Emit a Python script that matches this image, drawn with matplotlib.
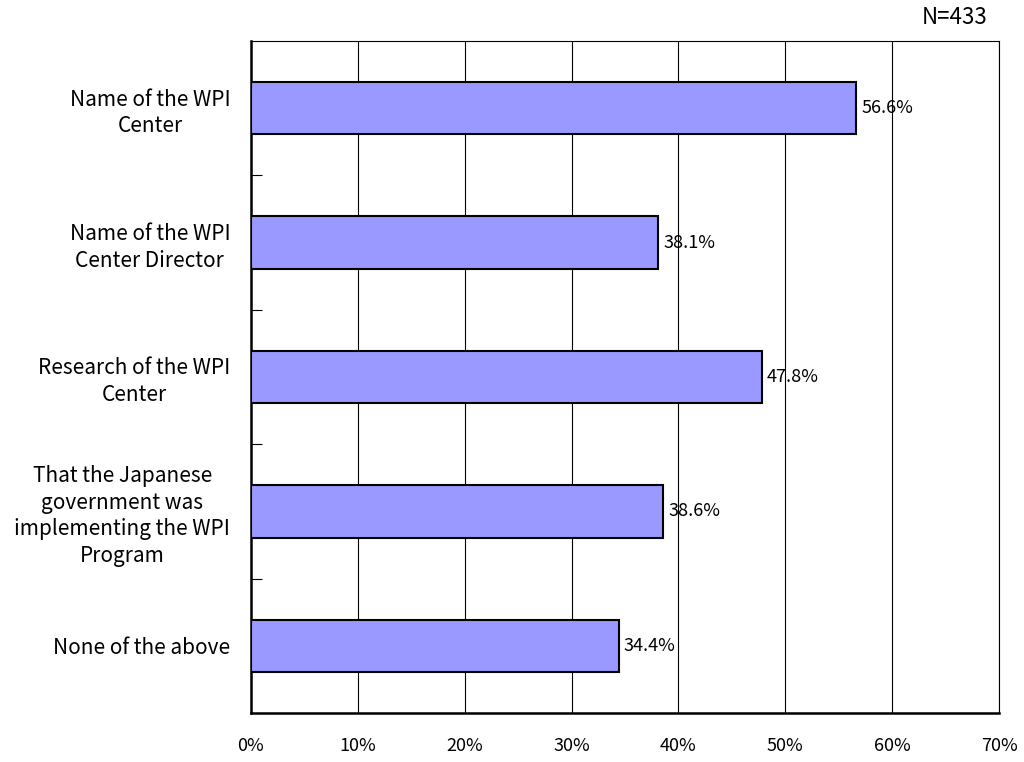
import numpy as np
import matplotlib
matplotlib.use("Agg")
import matplotlib.pyplot as plt

plt.rcParams['font.family'] = ['Noto Sans CJK JP', 'DejaVu Sans']

categories = ["Name of the WPI\nCenter",
              "Name of the WPI\nCenter Director",
              "Research of the WPI\nCenter",
              "That the Japanese\ngovernment was\nimplementing the WPI\nProgram",
              "None of the above"]
values = [56.6, 38.1, 47.8, 38.6, 34.4]
xticks = [0, 10, 20, 30, 40, 50, 60, 70]

fig = plt.figure(figsize=(10.24, 7.62), dpi=100)
ax = fig.add_axes([251/1024, 1-713/762, (999-251)/1024, (713-41)/762])

y = np.arange(len(categories))
ax.barh(y, values, height=0.39, color='#9999ff', edgecolor='black', linewidth=1.5, zorder=3)
for yi, v in zip(y, values):
    ax.text(v + 0.5, yi, f"{v:.1f}%", va='center', ha='left', fontsize=13, zorder=4)

ax.set_xlim(0, 70)
ax.set_ylim(len(categories) - 0.5, -0.5)
ax.set_xticks(xticks)
ax.set_xticklabels([f"{t}%" for t in xticks], fontsize=13)
ax.tick_params(axis='x', length=0, pad=17)
ax.xaxis.grid(True, color='black', linewidth=0.8, zorder=0)

ax.set_yticks(y)
ax.set_yticklabels(categories, fontsize=15, ha='right', multialignment='center', linespacing=1.27)
ax.tick_params(axis='y', which='major', length=0, pad=15)
ax.set_yticks(np.arange(0.5, len(categories) - 1, 1), minor=True)
ax.tick_params(axis='y', which='minor', direction='in', length=8, width=0.8)

ax.spines['left'].set_linewidth(1.8)
ax.spines['bottom'].set_linewidth(1.8)
ax.spines['top'].set_linewidth(0.8)
ax.spines['right'].set_linewidth(0.8)

fig.text(988/1024, 1-17/762, "N=433", ha='right', va='center', fontsize=16)

fig.savefig("out.png", dpi=100)
